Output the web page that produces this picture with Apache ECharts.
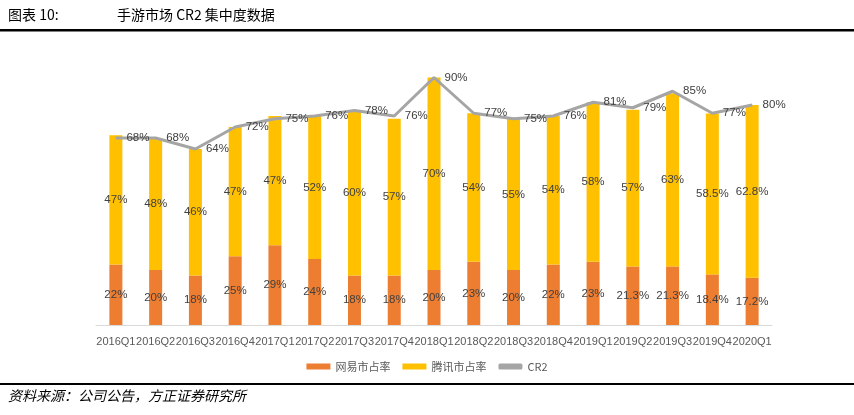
<!DOCTYPE html>
<html>
<head>
<meta charset="utf-8">
<script src="https://cdn.jsdelivr.net/npm/echarts@6/dist/echarts.min.js"></script>
<style>
  html, body { margin: 0; padding: 0; background: #fff; }
  #main { width: 854px; height: 415px; }
</style>
</head>
<body>
<div id="main"></div>
<script>
// 季度
var quarters = ['2016Q1', '2016Q2', '2016Q3', '2016Q4', '2017Q1', '2017Q2', '2017Q3', '2017Q4',
  '2018Q1', '2018Q2', '2018Q3', '2018Q4', '2019Q1', '2019Q2', '2019Q3', '2019Q4', '2020Q1'];
var netease = [22, 20, 18, 25, 29, 24, 18, 18, 20, 23, 20, 22, 23, 21.3, 21.3, 18.4, 17.2];
var tencent = [47, 48, 46, 47, 47, 52, 60, 57, 70, 54, 55, 54, 58, 57, 63, 58.5, 62.8];
var cr2 = [68, 68, 64, 72, 75, 76, 78, 76, 90, 77, 75, 76, 81, 79, 85, 77, 80];

var chart = echarts.init(document.getElementById('main'));
var labelFont = 'Liberation Sans, Arial, sans-serif';
var pct = function (p) { return p.value + '%'; };

var option = {
  animation: false,
  backgroundColor: '#fff',
  grid: { left: 96, right: 82, top: 50, bottom: 90 },
  legend: {
    bottom: 38,
    left: 'center',
    itemWidth: 24,
    itemHeight: 6,
    itemGap: 12,
    textStyle: { fontSize: 11, color: '#595959', fontFamily: 'Noto Sans CJK SC' },
    data: [
      { name: '网易市占率', icon: 'rect' },
      { name: '腾讯市占率', icon: 'rect' },
      { name: 'CR2', icon: 'roundRect' }
    ]
  },
  xAxis: {
    type: 'category',
    data: quarters,
    axisTick: { show: false },
    axisLine: { lineStyle: { color: '#d9d9d9' } },
    axisLabel: { interval: 0, fontSize: 11, color: '#595959', margin: 11, fontFamily: labelFont }
  },
  yAxis: {
    type: 'value',
    min: 0,
    max: 100,
    show: false,
    splitLine: { show: false }
  },
  series: [
    {
      name: '网易市占率',
      type: 'bar',
      stack: 'share',
      barWidth: 13,
      data: netease,
      itemStyle: { color: '#ED7D31' },
      label: { show: true, position: 'inside', formatter: pct, color: '#404040', fontSize: 11.5, fontFamily: labelFont }
    },
    {
      name: '腾讯市占率',
      type: 'bar',
      stack: 'share',
      barWidth: 13,
      data: tencent,
      itemStyle: { color: '#FFC000' },
      label: { show: true, position: 'inside', formatter: pct, color: '#404040', fontSize: 11.5, fontFamily: labelFont }
    },
    {
      name: 'CR2',
      type: 'line',
      data: cr2,
      symbol: 'circle',
      symbolSize: 1,
      showSymbol: true,
      lineStyle: { color: '#A5A5A5', width: 3 },
      itemStyle: { color: '#A5A5A5' },
      label: { show: true, position: 'right', distance: 10, formatter: pct, color: '#404040', fontSize: 11.5, fontFamily: labelFont },
      labelLayout: { hideOverlap: false }
    }
  ],
  graphic: [
    { type: 'text', left: 8, top: 8, style: { text: '图表 10:', fontSize: 14, fill: '#000', fontFamily: 'Noto Sans CJK SC' } },
    { type: 'text', left: 117, top: 8, style: { text: '手游市场 CR2 集中度数据', fontSize: 14, fill: '#000', fontFamily: 'Noto Sans CJK SC' } },
    { type: 'rect', shape: { x: 0, y: 29, width: 854, height: 2.5 }, style: { fill: '#000' } },
    { type: 'rect', shape: { x: 0, y: 383, width: 854, height: 2 }, style: { fill: '#000' } },
    { type: 'text', left: 8, top: 389, style: { text: '资料来源：公司公告，方正证券研究所', fontSize: 14, fill: '#000', fontStyle: 'italic', fontFamily: 'Noto Sans CJK SC' } }
  ]
};

chart.setOption(option);
</script>
</body>
</html>
